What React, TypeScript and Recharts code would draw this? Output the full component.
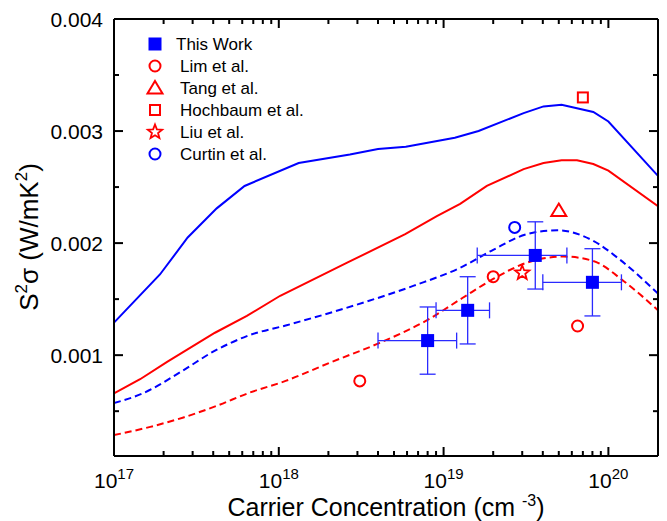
import React from 'react';
import { ComposedChart, Line, Scatter, XAxis, YAxis, ErrorBar } from 'recharts';

const FONT = '"Liberation Sans", Arial, sans-serif';
const BLUE = '#0000ff';
const RED = '#ff0000';

// axis ticks
const xTicks = [
	1e17, 2e17, 3e17, 4e17, 5e17, 6e17, 7e17, 8e17, 9e17,
	1e18, 2e18, 3e18, 4e18, 5e18, 6e18, 7e18, 8e18, 9e18,
	1e19, 2e19, 3e19, 4e19, 5e19, 6e19, 7e19, 8e19, 9e19,
	1e20, 2e20,
];
const yTicks = [0.0005, 0.001, 0.0015, 0.002, 0.0025, 0.003, 0.0035, 0.004];
const xDomain = [1e17, 2e20];
const yDomain = [0.0001, 0.004];

// model curves: [carrier concentration, power factor]
const blueSolid = [
	[1e17, 0.00129], [1.9e17, 0.00172], [2.8e17, 0.00205], [4.2e17, 0.00231],
	[6.2e17, 0.00251], [1.32e18, 0.002715], [2.7e18, 0.00279], [4e18, 0.00284],
	[5.9e18, 0.00286], [1.17e19, 0.00294], [1.63e19, 0.003], [3.06e19, 0.00316],
	[4.04e19, 0.00322], [5.2e19, 0.003234], [8.1e19, 0.00317], [1e20, 0.003085],
	[2e20, 0.0026],
];
const redSolid = [
	[1e17, 0.000658], [1.44e17, 0.000785], [2.1e17, 0.00094], [4.1e17, 0.0012],
	[6.4e17, 0.00135], [1.02e18, 0.00153], [2.6e18, 0.001825], [5.85e18, 0.00208],
	[9.1e18, 0.00224], [1.26e19, 0.00235], [1.83e19, 0.00251], [3.06e19, 0.00266],
	[4.04e19, 0.002715], [5.2e19, 0.00274], [6.45e19, 0.00274], [8.1e19, 0.002706],
	[1e20, 0.002647], [2e20, 0.00233],
];
const blueDashed = [
	[1e17, 0.000572], [1.5e17, 0.00066], [2.6e17, 0.00086], [4.1e17, 0.00104],
	[6.4e17, 0.00117], [1.17e18, 0.001275], [2.6e18, 0.001424], [6.6e18, 0.00162],
	[1.26e19, 0.00178], [2e19, 0.00194], [3.2e19, 0.00208], [4.9e19, 0.002115],
	[8.1e19, 0.00202], [1.18e20, 0.00185], [2e20, 0.00155],
];
const redDashed = [
	[1e17, 0.000287], [1.66e17, 0.00036], [2.64e17, 0.000444], [4.2e17, 0.000548],
	[6.7e17, 0.000667], [1.1e18, 0.00077], [2.05e18, 0.000934], [4.1e18, 0.00111],
	[7.9e18, 0.00131], [1.3e19, 0.00151], [2e19, 0.00168], [3.2e19, 0.001825],
	[5.35e19, 0.00188], [8.1e19, 0.00184], [1.24e20, 0.00166], [2e20, 0.0014],
];

// measured points
const workN = [8e18, 1.4e19, 3.6e19, 8e19];
const workS = [0.00113, 0.0014, 0.00189, 0.00165];
const workErrN = [4e18, 5e18, 2e19, 4e19];
const workErrS = [0.0003, 0.0003, 0.0003, 0.0003];

const limN = [3.1e18, 2e19, 6.5e19];
const limS = [0.00077, 0.0017, 0.00126];
const tangN = [5e19];
const tangS = [0.00229];
const hochN = [7e19];
const hochS = [0.0033];
const liuN = [3e19];
const liuS = [0.001735];
const curtinN = [2.7e19];
const curtinS = [0.00214];

const legendNames = ['This Work', 'Lim et al.', 'Tang et al.', 'Hochbaum et al.', 'Liu et al.', 'Curtin et al.'];

const rows = (pts: number[][]) => pts.map(([n, s]) => ({ n, s }));
const zip = (ns: number[], ss: number[]) => ns.map((n, i) => ({ n, s: ss[i] }));
const workRows = workN.map((n, i) => ({ n, s: workS[i], en: workErrN[i], es: workErrS[i] }));

const isMajorX = (v: number) => Math.abs(Math.log10(v) - Math.round(Math.log10(v))) < 1e-6;
const isMajorY = (v: number) => Math.abs(v * 1000 - Math.round(v * 1000)) < 1e-6;

function starPath(cx: number, cy: number, ro: number, ri: number) {
	let d = '';
	for (let i = 0; i < 10; i++) {
		const r = i % 2 === 0 ? ro : ri;
		const a = -Math.PI / 2 + (i * Math.PI) / 5;
		d += (i === 0 ? 'M' : 'L') + (cx + r * Math.cos(a)).toFixed(2) + ',' + (cy + r * Math.sin(a)).toFixed(2);
	}
	return d + 'Z';
}

function Marker({ kind, cx, cy, color }: { kind: string; cx: number; cy: number; color: string }) {
	if (kind === 'fsquare') return <rect x={cx - 6.5} y={cy - 6.5} width={13} height={13} fill={color} />;
	if (kind === 'circle') return <circle cx={cx} cy={cy} r={5.5} fill="none" stroke={color} strokeWidth={2} />;
	if (kind === 'triangle')
		return <polygon points={`${cx},${cy - 7} ${cx + 7.5},${cy + 5.5} ${cx - 7.5},${cy + 5.5}`} fill="none" stroke={color} strokeWidth={2} />;
	if (kind === 'square') return <rect x={cx - 5} y={cy - 5} width={10} height={10} fill="none" stroke={color} strokeWidth={2} />;
	return <path d={starPath(cx, cy, 7.5, 3.2)} fill="none" stroke={color} strokeWidth={1.8} />;
}

const shape = (kind: string, color: string) => (p: any) => <Marker kind={kind} cx={p.cx} cy={p.cy} color={color} />;

// tick marks point into the plot: 9px for majors, 5px for minors
const mark = (x: number, y: number, dx: number, dy: number, major: boolean) => {
	const len = major ? 9 : 5;
	return <line x1={x} y1={y} x2={x + dx * len} y2={y + dy * len} stroke="#000" strokeWidth={2} />;
};

const BottomTick = (p: any) => {
	const { x, y, payload } = p;
	const v = payload.value;
	const major = isMajorX(v);
	return (
		<g>
			{mark(x, y, 0, -1, major)}
			{major && (
				<text x={x} y={y + 32} textAnchor="middle" fontSize={21} fill="#000" stroke="none" fontFamily={FONT}>
					10<tspan dy={-9} fontSize={15}>{Math.round(Math.log10(v))}</tspan>
				</text>
			)}
		</g>
	);
};
const TopTick = (p: any) => <g>{mark(p.x, p.y, 0, 1, isMajorX(p.payload.value))}</g>;
const LeftTick = (p: any) => {
	const { x, y, payload } = p;
	const v = payload.value;
	const major = isMajorY(v);
	return (
		<g>
			{mark(x, y, 1, 0, major)}
			{major && (
				<text x={x - 11} y={y} dy="0.36em" textAnchor="end" fontSize={21} fill="#000" stroke="none" fontFamily={FONT}>
					{v.toFixed(3)}
				</text>
			)}
		</g>
	);
};
const RightTick = (p: any) => <g>{mark(p.x, p.y, -1, 0, isMajorY(p.payload.value))}</g>;

const axisLine = { stroke: '#000', strokeWidth: 2 };
const legendKinds: [string, string][] = [
	['fsquare', BLUE], ['circle', RED], ['triangle', RED], ['square', RED], ['star', RED], ['circle', BLUE],
];

export default function App() {
	return (
		<div style={{ position: 'absolute', left: 0, top: 0, width: 667, height: 521, background: '#fff' }}>
			<ComposedChart width={667} height={521} margin={{ top: 0, right: 0, bottom: 0, left: 54 }} style={{ fontFamily: FONT }}>
				<XAxis xAxisId="b" dataKey="n" type="number" scale="log" domain={xDomain} allowDataOverflow
					ticks={xTicks} interval={0} tickSize={0} tickMargin={0} tickLine={false} height={65}
					tick={<BottomTick />} axisLine={axisLine} stroke="#000" />
				<XAxis xAxisId="t" orientation="top" dataKey="n" type="number" scale="log" domain={xDomain} allowDataOverflow
					ticks={xTicks} interval={0} tickSize={0} tickMargin={0} tickLine={false} height={19}
					tick={<TopTick />} axisLine={axisLine} stroke="#000" />
				<YAxis yAxisId="l" dataKey="s" type="number" domain={yDomain} allowDataOverflow
					ticks={yTicks} interval={0} tickSize={0} tickMargin={0} tickLine={false} width={60}
					tick={<LeftTick />} axisLine={axisLine} stroke="#000" />
				<YAxis yAxisId="r" orientation="right" dataKey="s" type="number" domain={yDomain} allowDataOverflow
					ticks={yTicks} interval={0} tickSize={0} tickMargin={0} tickLine={false} width={9}
					tick={<RightTick />} axisLine={axisLine} stroke="#000" />

				<Line xAxisId="b" yAxisId="l" data={rows(blueSolid)} dataKey="s" type="linear" stroke={BLUE} strokeWidth={2} dot={false} isAnimationActive={false} />
				<Line xAxisId="b" yAxisId="l" data={rows(redSolid)} dataKey="s" type="linear" stroke={RED} strokeWidth={2} dot={false} isAnimationActive={false} />
				<Line xAxisId="b" yAxisId="l" data={rows(blueDashed)} dataKey="s" type="monotone" stroke={BLUE} strokeWidth={2} strokeDasharray="7 4" dot={false} isAnimationActive={false} />
				<Line xAxisId="b" yAxisId="l" data={rows(redDashed)} dataKey="s" type="monotone" stroke={RED} strokeWidth={2} strokeDasharray="7 4" dot={false} isAnimationActive={false} />

				<Scatter xAxisId="b" yAxisId="l" data={workRows} dataKey="s" shape={shape('fsquare', BLUE)} isAnimationActive={false}>
					<ErrorBar dataKey="en" direction="x" width={8} stroke="#2a2aff" strokeWidth={1.3} />
					<ErrorBar dataKey="es" direction="y" width={8} stroke="#2a2aff" strokeWidth={1.3} />
				</Scatter>
				<Scatter xAxisId="b" yAxisId="l" data={zip(limN, limS)} dataKey="s" shape={shape('circle', RED)} isAnimationActive={false} />
				<Scatter xAxisId="b" yAxisId="l" data={zip(tangN, tangS)} dataKey="s" shape={shape('triangle', RED)} isAnimationActive={false} />
				<Scatter xAxisId="b" yAxisId="l" data={zip(hochN, hochS)} dataKey="s" shape={shape('square', RED)} isAnimationActive={false} />
				<Scatter xAxisId="b" yAxisId="l" data={zip(liuN, liuS)} dataKey="s" shape={shape('star', RED)} isAnimationActive={false} />
				<Scatter xAxisId="b" yAxisId="l" data={zip(curtinN, curtinS)} dataKey="s" shape={shape('circle', BLUE)} isAnimationActive={false} />
			</ComposedChart>

			<svg width={667} height={521} style={{ position: 'absolute', left: 0, top: 0, pointerEvents: 'none' }} fontFamily={FONT}>
				{legendNames.map((name, i) => {
					const cy = 44 + i * 22;
					const [kind, color] = legendKinds[i];
					return (
						<g key={name}>
							<Marker kind={kind} cx={155} cy={cy} color={color} />
							<text x={i === 0 ? 176 : 180} y={cy + 6} fontSize={17} fill="#000">{name}</text>
						</g>
					);
				})}
				<text x={386} y={516} textAnchor="middle" fontSize={25} fill="#000">
					Carrier Concentration (cm <tspan dy={-10} fontSize={16}>-3</tspan><tspan dy={10}>)</tspan>
				</text>
				<text transform="translate(38,237) rotate(-90)" textAnchor="middle" fontSize={26} fill="#000">
					S<tspan dy={-11} fontSize={17}>2</tspan><tspan dy={11}>σ (W/mK</tspan><tspan dy={-11} fontSize={17}>2</tspan><tspan dy={11}>)</tspan>
				</text>
			</svg>
		</div>
	);
}
